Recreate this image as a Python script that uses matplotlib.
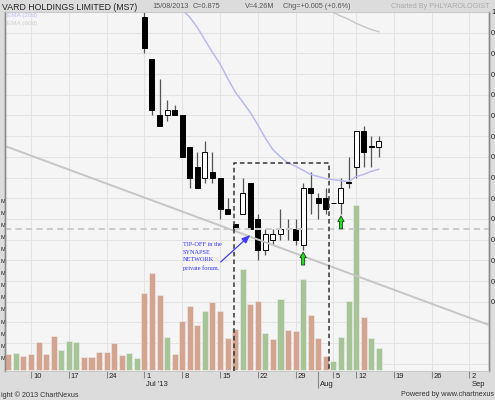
import matplotlib

matplotlib.use("Agg")

import matplotlib.pyplot as plt
import matplotlib.transforms as mtransforms
import numpy as np

plt.rcParams["font.family"] = ["Liberation Sans", "DejaVu Sans"]

# trading days 5 Jun 2013 .. 15 Aug 2013, x = day index 0..49 (8-9 Aug closed)
week_ticks = [3, 8, 13, 18, 23, 28, 33, 38, 43, 46, 51, 56, 61]
week_labels = ["10", "17", "24", "1", "8", "15", "22", "29", "5", "12", "19", "26", "2"]
month_ticks = [18, 41, 61]
month_labels = ["Jul '13", "Aug", "Sep"]

# volume in millions, 1 = close up on the day
volume_m = [3.3, 3.5, 2.9, 3.3, 5.8, 3.3, 7.0, 4.1, 6.0, 5.8,
            2.6, 2.6, 3.7, 3.7, 5.6, 3.0, 3.5, 2.5, 15.9, 20.0,
            15.5, 6.8, 3.4, 10.2, 13.2, 9.3, 12.2, 14.0, 12.2, 6.6,
            8.5, 20.9, 13.6, 14.2, 7.6, 6.4, 14.6, 8.2, 8.1, 18.8,
            11.3, 6.7, 2.9, 1.8, 6.8, 14.2, 34.1, 10.9, 6.7, 4.5]
volume_up = [0, 1, 0, 0, 0, 0, 0, 1, 1, 1,
             0, 0, 0, 0, 0, 0, 1, 1, 0, 0,
             0, 1, 0, 0, 0, 0, 1, 0, 0, 0,
             0, 1, 0, 0, 1, 0, 1, 0, 0, 1,
             0, 0, 0, 1, 1, 1, 1, 0, 1, 1]

# candles inside the price window start on 1 Jul (day 18)
candle_days = list(range(18, 50))
opens = [0.995, 0.955, 0.900, 0.900, 0.905, 0.900, 0.870, 0.850, 0.840, 0.845,
         0.840, 0.810, 0.795, 0.805, 0.835, 0.800, 0.770, 0.780, 0.785, 0.790,
         0.790, 0.775, 0.830, 0.820, 0.820, 0.815, 0.815, 0.835, 0.850, 0.885,
         0.870, 0.870]
highs = [1.000, 0.955, 0.935, 0.915, 0.910, 0.900, 0.870, 0.865, 0.875, 0.865,
         0.840, 0.820, 0.795, 0.840, 0.835, 0.805, 0.790, 0.790, 0.810, 0.800,
         0.800, 0.835, 0.845, 0.825, 0.830, 0.815, 0.840, 0.860, 0.885, 0.890,
         0.880, 0.880]
lows = [0.960, 0.900, 0.890, 0.895, 0.900, 0.860, 0.830, 0.830, 0.835, 0.835,
        0.800, 0.805, 0.790, 0.805, 0.790, 0.760, 0.765, 0.775, 0.780, 0.780,
        0.775, 0.770, 0.805, 0.800, 0.805, 0.815, 0.805, 0.830, 0.840, 0.850,
        0.850, 0.860]
closes = [0.965, 0.905, 0.890, 0.905, 0.900, 0.860, 0.840, 0.830, 0.865, 0.840,
          0.810, 0.805, 0.790, 0.825, 0.790, 0.770, 0.785, 0.785, 0.790, 0.790,
          0.780, 0.830, 0.825, 0.815, 0.810, 0.815, 0.830, 0.835, 0.885, 0.865,
          0.870, 0.875]

ema20_days = list(range(23, 50))
ema20 = [1.002, 0.995, 0.985, 0.973, 0.961, 0.950, 0.936, 0.923, 0.913, 0.903,
         0.891, 0.878, 0.867, 0.860, 0.854, 0.851, 0.847, 0.843, 0.841, 0.839,
         0.838, 0.837, 0.836, 0.841, 0.843, 0.846, 0.848]
ema60_days = list(range(42, 50))
ema60 = [1.003, 0.9995, 0.996, 0.993, 0.989, 0.986, 0.983, 0.981]

trend_days = [-0.44, 63.58]
trend_prices = [0.8705, 0.6976]
support_price = 0.79
box_days = [29.9, 42.46]
box_top = 0.854
signal_days = [39, 44]
note_text = "TIP-OFF in the\nSYNAPSE\nNETWORK\nprivate forum."
note_xy = (23.1, 0.7775)
note_arrow_from = (28.1, 0.7585)
note_arrow_to = (32.0, 0.7845)

price_ticks = np.round(np.arange(0.66, 1.001, 0.02), 2)
volume_ticks = np.arange(2.5, 35.1, 2.5)

fig = plt.figure(figsize=(4.95, 4.0), dpi=100, facecolor="#dcdcdc")
ax = fig.add_axes([5 / 495, 29 / 400, 484 / 495, 359 / 400])
ax.set_facecolor("#f5f5f5")
axv = ax.twinx()
axv.patch.set_visible(False)

# price axis (right) - only the first digit fits inside the picture
ax.set_xlim(-0.44, 63.58)
ax.set_ylim(0.6531, 1.0)
ax.yaxis.tick_right()
ax.set_yticks(price_ticks)
ax.set_yticklabels([f"{p:.2f}"[0] if p >= 0.715 else "" for p in price_ticks])
ax.tick_params(axis="y", length=0, pad=1.5, labelsize=5.5, colors="#222")
ax.grid(True, color="#e3e3e3", linewidth=0.8)
ax.set_axisbelow(True)

# volume axis (left) - only the unit shows at the left edge
axv.yaxis.tick_left()
axv.set_ylim(-0.21, 73.97)
axv.set_yticks(volume_ticks)
axv.set_yticklabels(["M" for v in volume_ticks])
axv.tick_params(axis="y", length=0, pad=-0.3, labelsize=4.1, colors="#222")

for a in (ax, axv):
    for side in ("left", "right"):
        a.spines[side].set_color("#8a8a8a")
        a.spines[side].set_linewidth(1.0)
    for side in ("top", "bottom"):
        a.spines[side].set_color("#c8c8c8")
        a.spines[side].set_linewidth(0.6)

# x ticks: weeks short, month starts long
ax.set_xticks(week_ticks)
ax.set_xticks(month_ticks, minor=True)
ax.set_xticklabels([])
ax.tick_params(axis="x", which="major", length=5, width=0.8, color="#888")
ax.tick_params(axis="x", which="minor", length=12, width=0.8, color="#888")
base = mtransforms.blended_transform_factory(ax.transData, ax.transAxes)
row1 = mtransforms.offset_copy(base, fig=fig, x=2, y=-2, units="dots")
row2 = mtransforms.offset_copy(base, fig=fig, x=2, y=-10.5, units="dots")
for pos, lab in zip(week_ticks, week_labels):
    ax.text(pos, 0, lab, transform=row1, ha="left", va="top", fontsize=5.5, color="#222")
for pos, lab in zip(month_ticks, month_labels):
    ax.text(pos, 0, lab, transform=row2, ha="left", va="top", fontsize=5.5, color="#222")

# volume bars
vol_x = np.arange(len(volume_m))
vol_colors = ["#a6c497" if up else "#d3a590" for up in volume_up]
axv.bar(vol_x, volume_m, width=0.8, color=vol_colors, edgecolor="#eeeeee", linewidth=0.4)

# candles
body_bottom = [min(o, c) for o, c in zip(opens, closes)]
body_height = [max(abs(c - o), 0.0006) for o, c in zip(opens, closes)]
body_color = ["white" if c > o else "black" for o, c in zip(opens, closes)]
ax.vlines(candle_days, lows, highs, color="#555555", linewidth=0.9, zorder=2)
ax.bar(candle_days, body_height, bottom=body_bottom, width=0.66, color=body_color,
       edgecolor="black", linewidth=0.7, zorder=3)

# moving averages
ax.plot(ema20_days, ema20, color="#b9b9f2", linewidth=1.1, zorder=2)
ax.plot(ema60_days, ema60, color="#c9c9c9", linewidth=1.1, zorder=2)

# drawings on top of the volume bars, in price coordinates
pt = ax.transData
axv.plot(trend_days, trend_prices, color="#c6c6c6", linewidth=1.4, transform=pt)
axv.plot([-0.44, 63.58], [support_price, support_price], color="#cccccc", linewidth=1.5,
         linestyle=(0, (3, 2)), transform=pt)
axv.plot([box_days[0], box_days[0], box_days[1], box_days[1]], [0.6531, box_top, box_top, 0.6531],
         color="#333333", linewidth=1.1, linestyle=(0, (3, 2)), transform=pt)

for d in signal_days:
    low = lows[candle_days.index(d)]
    axv.annotate("", xy=(d, low - 0.002), xytext=(d, low - 0.0145), xycoords=pt, textcoords=pt,
                 arrowprops=dict(arrowstyle="simple,head_length=0.4,head_width=0.45,tail_width=0.22",
                                 fc="#22e022", ec="#1b3d1b", lw=0.6, shrinkA=0, shrinkB=0))

axv.annotate("", xy=note_arrow_to, xytext=note_arrow_from, xycoords=pt, textcoords=pt,
             arrowprops=dict(arrowstyle="-|>,head_length=0.5,head_width=0.2", color="#3b3bff",
                             lw=0.9, shrinkA=0, shrinkB=0))
axv.text(note_xy[0], note_xy[1], note_text, transform=pt, ha="left", va="top", fontsize=4.5,
         color="#3030ff", family=["Liberation Serif", "DejaVu Serif"], linespacing=1.65)

# legend
fig.text(7 / 495, 1 - 15.7 / 400, "EMA (20d)", fontsize=4.6, color="#bcbcf4", va="center")
fig.text(7 / 495, 1 - 24 / 400, "EMA (60d)", fontsize=4.6, color="#cfcfcf", va="center")

# header and footer (footer shows only the part that fits the picture)
fig.text(2 / 495, 1 - 7 / 400, "VARD HOLDINGS LIMITED (MS7)", fontsize=6.3, color="#222222", va="center")
fig.text(152 / 495, 1 - 7 / 400, "15/08/2013", fontsize=5.2, color="#555555", va="center")
fig.text(193 / 495, 1 - 7 / 400, "C=0.875", fontsize=5.2, color="#555555", va="center")
fig.text(245 / 495, 1 - 7 / 400, "V=4.26M", fontsize=5.2, color="#555555", va="center")
fig.text(283 / 495, 1 - 7 / 400, "Chg=+0.005 (+0.6%)", fontsize=5.2, color="#555555", va="center")
fig.text(489 / 495, 1 - 7 / 400, "Charted By PHLYAROLOGIST", fontsize=5.2, color="#aaaaaa",
         va="center", ha="right")
fig.text(1 / 495, 1 - 395 / 400, "ight \u00a9 2013 ChartNexus", fontsize=5.2, color="#333333",
         va="center", ha="left")
fig.text(494 / 495, 1 - 395 / 400, "Powered by www.chartnexus", fontsize=5.2, color="#333333",
         va="center", ha="right")

fig.savefig("out.png", dpi=100, facecolor=fig.get_facecolor())
